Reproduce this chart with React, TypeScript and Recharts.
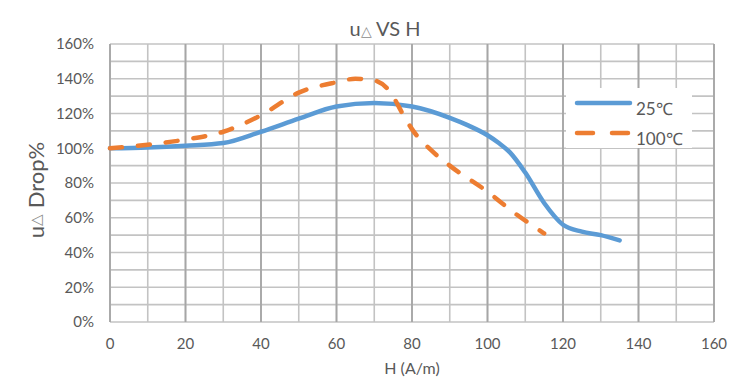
import {
  LineChart,
  Line,
  XAxis,
  YAxis,
  CartesianGrid,
  Legend,
  Label,
} from 'recharts'

// H (A/m) vs permeability drop (%)
const h25 = [0, 10, 20, 30, 40, 50, 60, 70, 80, 90, 95, 100, 103, 106, 110, 115, 120, 125, 130, 135]
const drop25 = [100, 100.5, 101.5, 103, 109.5, 117, 124, 126, 124, 117.5, 113, 107.5, 103, 97.5, 86, 68.5, 56, 52, 50, 47]

const h100 = [0, 10, 20, 30, 40, 50, 60, 65, 70, 74, 78, 80, 85, 90, 100, 107, 115]
const drop100 = [100, 102, 105, 109.5, 119, 132, 138, 140, 139, 133, 118, 111, 99, 90, 75, 63, 51]

const xTicks = [0, 20, 40, 60, 80, 100, 120, 140, 160]
const yTicks = [0, 20, 40, 60, 80, 100, 120, 140, 160]
const xMinor = [0, 10, 20, 30, 40, 50, 60, 70, 80, 90, 100, 110, 120, 130, 140, 150, 160]
const yMinor = [0, 10, 20, 30, 40, 50, 60, 70, 80, 90, 100, 110, 120, 130, 140, 150, 160]

const series = [
  { name: '25℃', color: '#5B9BD5', dash: undefined as string | undefined, xs: h25, ys: drop25 },
  { name: '100℃', color: '#ED7D31', dash: '12 16', xs: h100, ys: drop100 },
]

const FONT = 'Lato, "Open Sans", sans-serif'
const TEXT = '#595959'
const W = 750
const H = 384
const MARGIN = { top: 44, right: 36, bottom: 22, left: 60 }

function LegendBox() {
  return (
    <div style={{ background: '#fff', width: 126, height: 60, position: 'relative' }}>
      <svg width={126} height={60} style={{ position: 'absolute', left: 0, top: 0 }}>
        <line x1={11} y1={15} x2={64} y2={15} stroke={series[0].color} strokeWidth={4.5} strokeLinecap="round" />
        <line
          x1={11}
          y1={45}
          x2={64}
          y2={45}
          stroke={series[1].color}
          strokeWidth={4.5}
          strokeLinecap="round"
          strokeDasharray="16 19"
        />
        <text x={70} y={27} fill={TEXT} fontSize={17} fontFamily={FONT}>{series[0].name}</text>
        <text x={70} y={57} fill={TEXT} fontSize={17} fontFamily={FONT}>{series[1].name}</text>
      </svg>
    </div>
  )
}

function YTitle(props: any) {
  const vb = props.viewBox || { x: 60, y: 44, height: 278 }
  const cx = 35
  const cy = vb.y + vb.height / 2 + 7
  return (
    <text
      x={cx}
      y={cy}
      transform={`rotate(-90 ${cx} ${cy})`}
      textAnchor="middle"
      dominantBaseline="central"
      fill={TEXT}
      fontSize={22}
      fontFamily={FONT}
    >
      u<tspan fontSize={15} fill="#8c8c8c">△</tspan> Drop%
    </text>
  )
}

function XTitle(props: any) {
  const vb = props.viewBox || { x: 110, y: 322, width: 604 }
  return (
    <text
      x={vb.x + vb.width / 2}
      y={374}
      textAnchor="middle"
      fill={TEXT}
      fontSize={16}
      fontFamily={FONT}
    >
      H (A/m)
    </text>
  )
}

export default function App() {
  const gen = (vals: number[], axisKey: 'x' | 'y') => (p: any) => {
    const { offset } = p
    if (axisKey === 'x') return vals.map((v) => offset.left + (offset.width * v) / 160)
    return vals.map((v) => offset.top + offset.height - (offset.height * v) / 160)
  }

  return (
    <div style={{ position: 'absolute', left: 0, top: 0, width: W, height: H, background: '#fff' }}>
      <div
        style={{
          position: 'absolute',
          left: 0,
          width: W,
          top: 16,
          textAlign: 'center',
          fontFamily: FONT,
          fontSize: 20,
          color: TEXT,
          paddingLeft: 20,
          boxSizing: 'border-box',
        }}
      >
        u<span style={{ fontSize: 14, color: '#8c8c8c' }}>△</span> VS H
      </div>
      <LineChart width={W} height={H} margin={MARGIN}>
        <CartesianGrid
          stroke="#c3c3c3"
          strokeWidth={1.6}
          horizontalCoordinatesGenerator={gen(yMinor, 'y')}
          verticalCoordinatesGenerator={gen(xMinor, 'x')}
        />
        <CartesianGrid
          stroke="#a6a6a6"
          strokeWidth={1.8}
          horizontal={false}
          verticalCoordinatesGenerator={gen(xTicks, 'x')}
        />
        <XAxis
          type="number"
          dataKey="h"
          domain={[0, 160]}
          ticks={xTicks}
          allowDuplicatedCategory={false}
          axisLine={false}
          tickLine={false}
          tickMargin={10}
          height={40}
          tick={{ fontSize: 15, fill: TEXT, fontFamily: FONT }}
        >
          <Label content={<XTitle />} />
        </XAxis>
        <YAxis
          type="number"
          domain={[0, 160]}
          ticks={yTicks}
          axisLine={false}
          tickLine={false}
          tickMargin={10}
          width={50}
          tickFormatter={(v: number) => `${v}%`}
          tick={{ fontSize: 15, fill: TEXT, fontFamily: FONT }}
        >
          <Label content={<YTitle />} />
        </YAxis>
        <Legend
          layout="horizontal"
          align="center"
          verticalAlign="middle"
          content={<LegendBox />}
          wrapperStyle={{ position: 'absolute', left: 566, top: 88, width: 126, height: 60 }}
        />
        {series.map((s) => (
          <Line
            key={s.name}
            name={s.name}
            data={s.xs.map((x, i) => ({ h: x, v: s.ys[i] }))}
            dataKey="v"
            type="monotone"
            stroke={s.color}
            strokeWidth={4.5}
            strokeDasharray={s.dash}
            strokeLinecap="round"
            dot={false}
            activeDot={false}
            isAnimationActive={false}
          />
        ))}
      </LineChart>
    </div>
  )
}
